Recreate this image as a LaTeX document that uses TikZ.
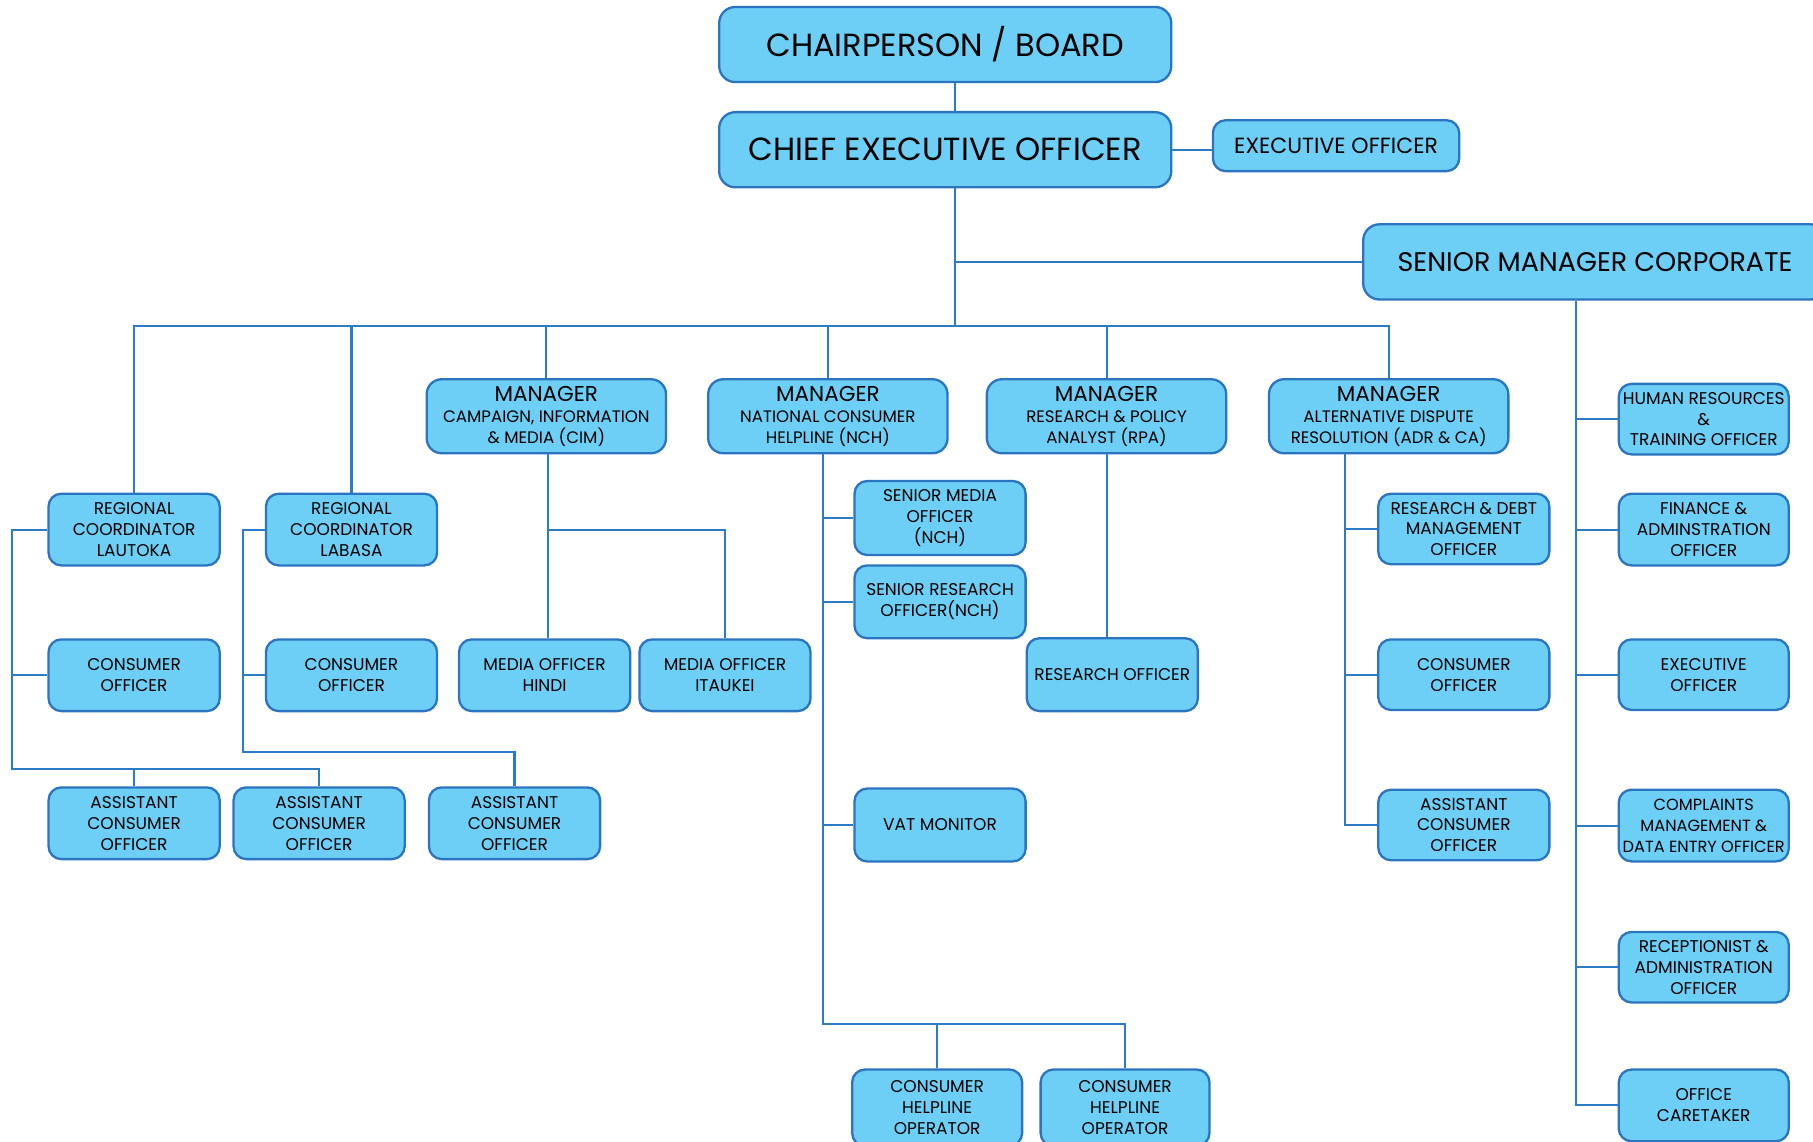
\documentclass[tikz,border=0pt]{standalone}
\usepackage{fontspec}
\setmainfont{Poppins}
\definecolor{boxfill}{HTML}{6ECFF6}
\definecolor{boxline}{HTML}{2A74C0}
\definecolor{linkline}{HTML}{2C7BC6}
\tikzset{
  box/.style={draw=boxline, fill=boxfill, line width=2pt, rounded corners=11pt,
    align=center, inner sep=0pt, minimum width=148, minimum height=62,
    font=\fontsize{14.7}{18}\selectfont},
  bigbox/.style={box, minimum width=391, minimum height=65, rounded corners=14pt,
    font=\fontsize{27.7}{30}\selectfont},
  mgrbox/.style={box, minimum width=207, minimum height=64, rounded corners=13pt,
    font=\fontsize{14.4}{18}\selectfont},
  link/.style={draw=linkline, line width=1.8pt}
}
\newcommand{\mgr}[1]{{\fontsize{18.6}{19}\selectfont MANAGER}\\#1}
\begin{document}
\begin{tikzpicture}[x=1pt,y=-1pt]
\useasboundingbox (0,0) rectangle (1568,987);

% top
\node[bigbox] (chair) at (817.5,38.5) {CHAIRPERSON / BOARD};
\node[bigbox] (ceo) at (817.5,129.5) {CHIEF EXECUTIVE OFFICER};
\node[box, minimum width=213, minimum height=44, font=\fontsize{19}{20}\selectfont] (exec) at (1155.5,126) {EXECUTIVE OFFICER};
\node[bigbox, minimum width=401, font=\fontsize{23.3}{26}\selectfont] (smc) at (1379.5,226.5) {SENIOR MANAGER CORPORATE};
\coordinate (trunk) at (826,282);

% managers
\node[mgrbox] (cim) at (472.5,360) {\mgr{CAMPAIGN, INFORMATION\\\& MEDIA (CIM)}};
\node[mgrbox] (nch) at (716,360) {\mgr{NATIONAL CONSUMER\\HELPLINE (NCH)}};
\node[mgrbox] (rpa) at (957,360) {\mgr{RESEARCH \& POLICY\\ANALYST (RPA)}};
\node[mgrbox] (adr) at (1201,360) {\mgr{ALTERNATIVE DISPUTE\\RESOLUTION (ADR \& CA)}};

% regions
\node[box] (lautoka) at (116,458) {REGIONAL\\COORDINATOR\\LAUTOKA};
\node[box] (labasa) at (304,458) {REGIONAL\\COORDINATOR\\LABASA};
\node[box] (co1) at (116,584) {CONSUMER\\OFFICER};
\node[box] (co2) at (304,584) {CONSUMER\\OFFICER};
\node[box] (aco1) at (116,712) {ASSISTANT\\CONSUMER\\OFFICER};
\node[box] (aco2) at (276,712) {ASSISTANT\\CONSUMER\\OFFICER};
\node[box] (aco3) at (445,712) {ASSISTANT\\CONSUMER\\OFFICER};
\coordinate (labus) at (10,665);
\coordinate (lbbus) at (210,650);

% cim
\node[box] (hindi) at (471,584) {MEDIA OFFICER\\HINDI};
\node[box] (itaukei) at (627,584) {MEDIA OFFICER\\ITAUKEI};
\coordinate (cimbr) at (474,458);

% nch
\node[box, minimum height=64] (smo) at (813,448) {SENIOR MEDIA\\OFFICER\\(NCH)};
\node[box, minimum height=63] (sro) at (813,520.5) {SENIOR RESEARCH\\OFFICER(NCH)};
\node[box, minimum height=63] (vat) at (813,713.5) {VAT MONITOR};
\node[box, minimum width=147, minimum height=66] (cho1) at (810.5,958) {CONSUMER\\HELPLINE\\OPERATOR};
\node[box, minimum width=146, minimum height=66] (cho2) at (973,958) {CONSUMER\\HELPLINE\\OPERATOR};
\coordinate (nchbus) at (712,886);

% rpa
\node[box, minimum height=63] (resoff) at (962,583.5) {RESEARCH OFFICER};

% adr
\node[box, minimum height=61] (rdm) at (1266,457.5) {RESEARCH \& DEBT\\MANAGEMENT\\OFFICER};
\node[box, minimum height=61] (co3) at (1266,583.5) {CONSUMER\\OFFICER};
\node[box, minimum height=61] (aco4) at (1266,713.5) {ASSISTANT\\CONSUMER\\OFFICER};
\coordinate (adrbus) at (1163,713.5);

% corporate
\node[box, minimum width=147, minimum height=61] (hr) at (1473.5,362.5) {HUMAN RESOURCES\\\&\\TRAINING OFFICER};
\node[box, minimum width=147] (fin) at (1473.5,458) {FINANCE \&\\ADMINSTRATION\\OFFICER};
\node[box, minimum width=147, minimum height=61] (exec2) at (1473.5,583.5) {EXECUTIVE\\OFFICER};
\node[box, minimum width=147, font=\fontsize{14}{18}\selectfont] (cmp) at (1473.5,714) {COMPLAINTS\\MANAGEMENT \&\\DATA ENTRY OFFICER};
\node[box, minimum width=147, minimum height=61] (rec) at (1473.5,836.5) {RECEPTIONIST \&\\ADMINISTRATION\\OFFICER};
\node[box, minimum width=147] (care) at (1473.5,956) {OFFICE\\CARETAKER};
\coordinate (smcbus) at (1363,956);

% links top
\draw[link] (chair.south -| trunk) -- (ceo.north -| trunk);
\draw[link] (ceo.south -| trunk) -- (trunk);
\draw[link] (ceo.east) -- (ceo.east -| exec.west);
\draw[link] (trunk |- smc.west) -- (smc.west);
\draw[link] (lautoka.north) |- (adr.north |- trunk) -- (adr.north);
\foreach \n in {labasa,cim,nch,rpa}
  \draw[link] (\n.north) -- (\n.north |- trunk);

% links regions
\draw[link] (lautoka.west) -| (labus) -| (aco2.north);
\draw[link] (co1.west) -- (co1.west -| labus);
\draw[link] (aco1.north) -- (aco1.north |- labus);
\draw[link] (labasa.west) -| (lbbus) -| (aco3.north);
\draw[link] (co2.west) -- (co2.west -| lbbus);

% links cim
\draw[link] (cim.south -| cimbr) -- (hindi.north -| cimbr);
\draw[link] (cimbr) -| (itaukei.north);

% links nch
\draw[link] (nch.south -| nchbus) -- (nchbus) -| (cho2.north);
\draw[link] (cho1.north) -- (cho1.north |- nchbus);
\foreach \n in {smo,sro,vat}
  \draw[link] (\n.west) -- (\n.west -| nchbus);

% links rpa
\draw[link] (resoff.north -| rpa.south) -- (rpa.south);

% links adr
\draw[link] (adr.south -| adrbus) -- (adrbus) -- (aco4.west);
\foreach \n in {rdm,co3}
  \draw[link] (\n.west) -- (\n.west -| adrbus);

% links corporate
\draw[link] (smc.south -| smcbus) -- (smcbus) -- (care.west);
\foreach \n in {hr,fin,exec2,cmp,rec}
  \draw[link] (\n.west) -- (\n.west -| smcbus);
\end{tikzpicture}
\end{document}
